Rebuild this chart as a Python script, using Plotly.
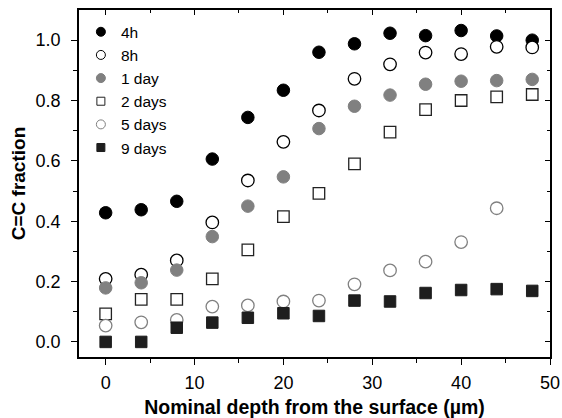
import plotly.graph_objects as go

depth = [0, 4, 8, 12, 16, 20, 24, 28, 32, 36, 40, 44, 48]

h4 = [0.428, 0.438, 0.466, 0.606, 0.744, 0.834, 0.960, 0.988, 1.023, 1.015, 1.032, 1.014, 1.000]
h8 = [0.209, 0.223, 0.270, 0.396, 0.535, 0.663, 0.767, 0.872, 0.920, 0.959, 0.954, 0.978, 0.976]
day1 = [0.179, 0.196, 0.238, 0.349, 0.450, 0.547, 0.707, 0.781, 0.818, 0.854, 0.864, 0.866, 0.870]
days2 = [0.093, 0.141, 0.141, 0.209, 0.305, 0.415, 0.492, 0.590, 0.695, 0.770, 0.800, 0.812, 0.820]
depth5 = [0, 4, 8, 12, 16, 20, 24, 28, 32, 36, 40, 44]
days5 = [0.054, 0.065, 0.073, 0.117, 0.121, 0.134, 0.137, 0.191, 0.237, 0.266, 0.331, 0.443]
days9 = [0.000, 0.000, 0.047, 0.064, 0.080, 0.095, 0.086, 0.137, 0.134, 0.162, 0.172, 0.175, 0.169]

names = ["4h", "8h", "1 day", "2 days", "5 days", "9 days"]

FONT = "Arial, Liberation Sans, Helvetica, sans-serif"

styles = [
    dict(symbol="circle", color="#000000", line=dict(color="#000000", width=1)),
    dict(symbol="circle", color="#ffffff", line=dict(color="#000000", width=1.3)),
    dict(symbol="circle", color="#808080", line=dict(color="#808080", width=1)),
    dict(symbol="square", color="#ffffff", line=dict(color="#222222", width=1.3)),
    dict(symbol="circle", color="#ffffff", line=dict(color="#808080", width=1.3)),
    dict(symbol="square", color="#1e1e1e", line=dict(color="#1e1e1e", width=1)),
]
series = [(depth, h4), (depth, h8), (depth, day1), (depth, days2), (depth5, days5), (depth, days9)]

fig = go.Figure()
for (xs, ys), st, nm in zip(series, styles, names):
    size = 12.5 if st["symbol"] == "circle" else 11.5
    fig.add_trace(go.Scatter(x=xs, y=ys, mode="markers", name=nm, showlegend=False,
                             marker=dict(symbol=st["symbol"], size=size, color=st["color"], line=st["line"])))
# legend entries (smaller symbols, like the reference legend)
for st, nm in zip(styles, names):
    fig.add_trace(go.Scatter(x=[None], y=[None], mode="markers", name=nm, showlegend=True,
                             marker=dict(symbol=st["symbol"], size=9 if st["symbol"] == "circle" else 8,
                                         color=st["color"], line=dict(color=st["line"]["color"], width=1))))

axis_common = dict(showgrid=False, zeroline=False, showline=True, linecolor="black", linewidth=1.5,
                   tickcolor="black", tickwidth=1.2, automargin=False)

fig.update_layout(
    width=562, height=418,
    margin=dict(l=79, r=12, t=10, b=61),
    paper_bgcolor="white", plot_bgcolor="white",
    font=dict(family=FONT, color="black", size=18),
    showlegend=True,
    legend=dict(x=0.004, y=0.985, xanchor="left", yanchor="top", bgcolor="rgba(0,0,0,0)",
                font=dict(size=15.5, family=FONT), borderwidth=0, tracegroupgap=0),
    xaxis=dict(range=[-3, 50], tickvals=[0, 10, 20, 30, 40, 50], ticks="outside", ticklen=6,
               ticklabelstandoff=3,
               minor=dict(tickvals=[5, 15, 25, 35, 45], ticks="outside", ticklen=4, tickcolor="black", tickwidth=1.2),
               title=dict(text="<b>Nominal depth from the surface (µm)</b>", font=dict(size=19.5), standoff=9),
               tickfont=dict(size=18), **axis_common),
    yaxis=dict(range=[-0.05, 1.1], tickvals=[0, 0.2, 0.4, 0.6, 0.8, 1.0], tickformat=".1f", ticks="outside", ticklen=6,
               ticklabelstandoff=7,
               minor=dict(tickvals=[0.1, 0.3, 0.5, 0.7, 0.9], ticks="outside", ticklen=4, tickcolor="black", tickwidth=1.2),
               title=dict(text="<b>C=C fraction</b>", font=dict(size=19), standoff=5),
               tickfont=dict(size=18), **axis_common),
    xaxis2=dict(overlaying="x", matches="x", side="top", range=[-3, 50], tickvals=[0, 10, 20, 30, 40, 50],
                ticks="inside", ticklen=5, showticklabels=False,
                minor=dict(tickvals=[5, 15, 25, 35, 45], ticks="inside", ticklen=3, tickcolor="black", tickwidth=1.2),
                **axis_common),
    yaxis2=dict(overlaying="y", matches="y", side="right", range=[-0.05, 1.1], tickvals=[0, 0.2, 0.4, 0.6, 0.8, 1.0],
                ticks="inside", ticklen=5, showticklabels=False,
                minor=dict(tickvals=[0.1, 0.3, 0.5, 0.7, 0.9], ticks="inside", ticklen=3, tickcolor="black", tickwidth=1.2),
                **axis_common),
)
# invisible trace to activate the mirrored axes
fig.add_trace(go.Scatter(x=[None], y=[None], xaxis="x2", yaxis="y2", showlegend=False, hoverinfo="skip"))

fig.write_html("out.html")
